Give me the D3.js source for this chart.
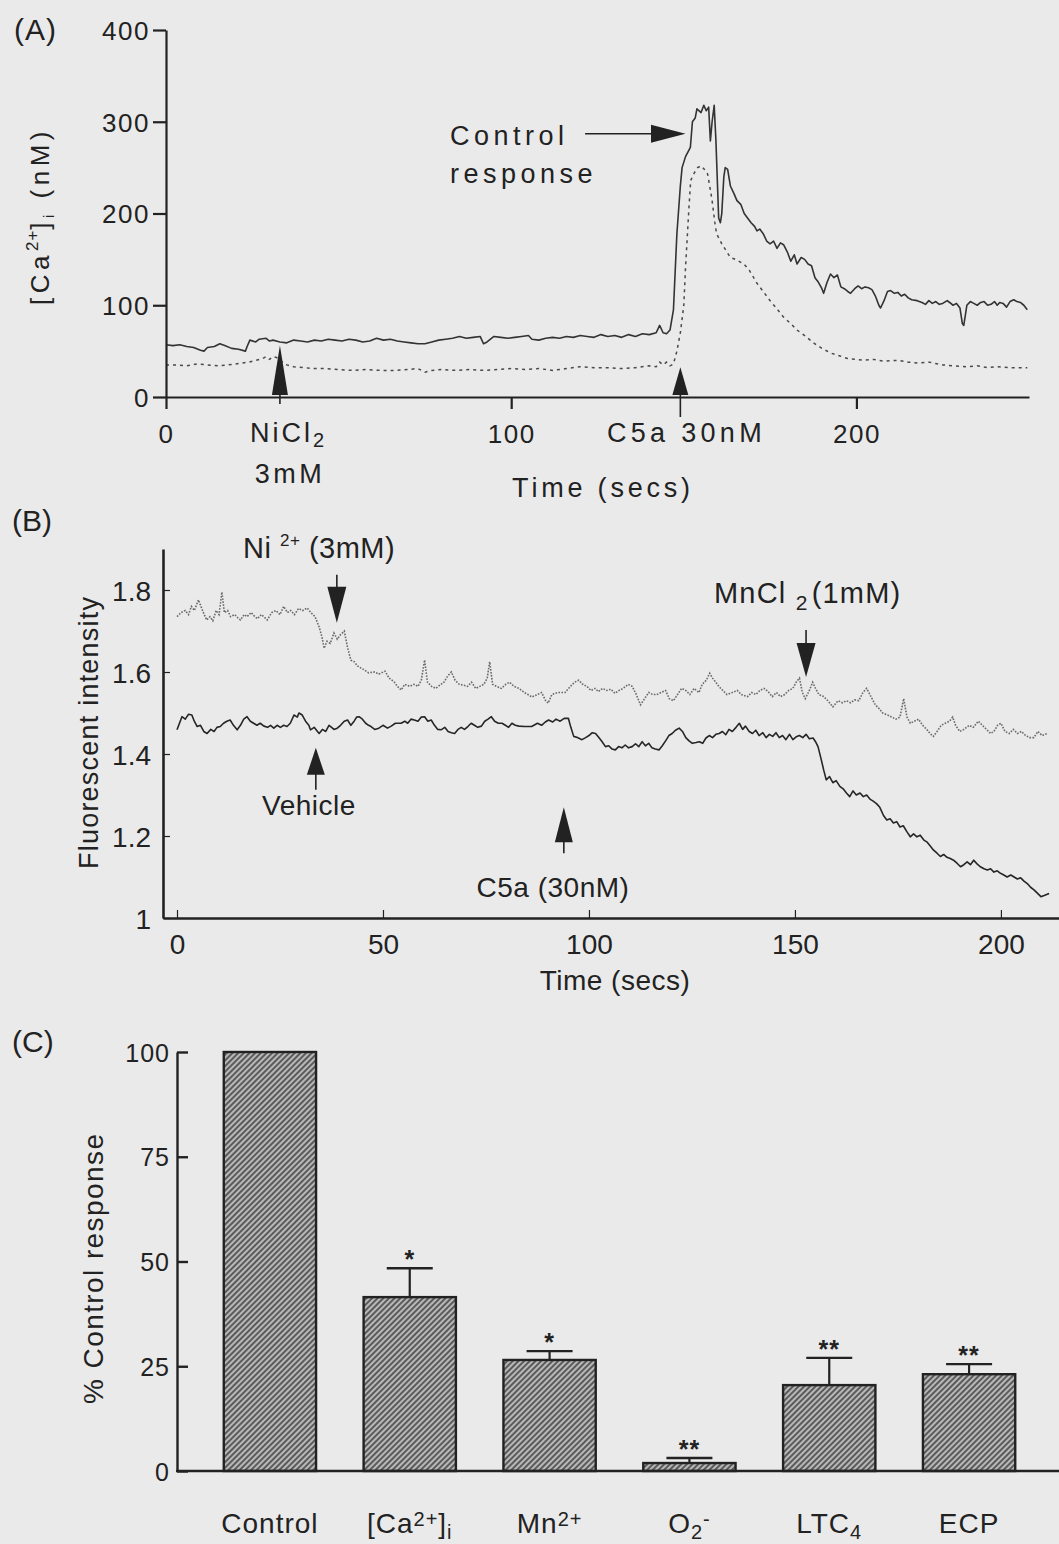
<!DOCTYPE html>
<html><head><meta charset="utf-8">
<script src="https://cdn.jsdelivr.net/npm/d3@7"></script>
<style>
body{margin:0;background:#eaeaea}
svg{display:block}
text{font-family:"Liberation Sans",Arial,Helvetica,sans-serif;fill:#222}
</style>
</head><body>
<svg id="chart" width="1059" height="1544"></svg>
<script>
// ---------------- Panel A data: [time (s), [Ca2+]i (nM)] ----------------
const aSolid = [[0,57],[2,56],[4,57],[6,55],[8,54],[10,51],[11,50],[12,54],[14,55],[15.6,58],[17,56],[19,53],[21,52],[23,50],[23.5,55],[24.3,62],[26,60],[27,63],[29,64],[30,61],[31,62],[33,60],[35,59],[37,62],[39,61],[41,60],[43,62],[45,61],[47,63],[49,62],[51,61],[53,63],[55,62],[57,60],[59,61],[61,64],[63,62],[65,63],[67,61],[69,60],[71,59],[73,58],[75,58],[77,60],[79,62],[81,63],[83,64],[85,66],[87,64],[89,65],[91,66],[92,58],[93,60],[95,66],[97,65],[99,64],[101,65],[103,66],[105,67],[106,63],[108,62],[110,64],[112,65],[114,64],[116,66],[118,65],[120,67],[122,66],[124,65],[126,68],[128,66],[130,67],[132,65],[134,68],[136,66],[138,69],[140,68],[142,70],[143,78],[144,70],[145,69],[146,73],[147,95],[148,178],[149,230],[149.5,250],[150.5,262],[151.9,272],[152.5,300],[153.3,304],[153.8,314],[155,310],[155.8,318],[156.5,312],[157.2,316],[157.7,279],[158.2,300],[158.8,318],[159.3,280],[160.1,195],[160.6,190],[161,200],[161.6,240],[162,250],[162.7,248],[163.5,230],[164.5,222],[165.4,214],[166.5,210],[167.5,200],[168.3,196],[169.5,190],[170.5,186],[171.2,181],[172,183],[173,178],[174,170],[175,167],[176,170],[177,162],[178,168],[178.9,166],[180,158],[181,148],[182,155],[182.8,145],[184,152],[185,150],[186,145],[187,143],[188,130],[189,125],[190,118],[190.5,113],[191.5,125],[192.5,134],[193.5,130],[194.5,133],[195.5,120],[196.5,118],[197.5,115],[198.3,113],[199.5,118],[200.5,121],[201.5,118],[202.5,120],[203.5,119],[204.5,117],[205.5,110],[206.5,100],[207,97],[208,105],[209,115],[209.9,116],[211,113],[212,114],[213,110],[214,112],[215,108],[216,106],[217.6,105],[219,103],[220,101],[221,105],[222,102],[223,104],[224,101],[225,102],[226.3,105],[227,103],[228,100],[229,102],[230,97],[230.7,80],[231.1,78],[231.6,90],[232,100],[233,104],[234,102],[235,100],[236,103],[237,104],[238,100],[239,101],[240,104],[240.8,100],[241.5,103],[242.5,102],[243.5,98],[244.5,104],[245.6,106],[246.5,104],[247.5,103],[248.5,100],[249.5,95]];
const aDotted = [[0,35],[3,35],[6,34],[9,36],[12,35],[15,34],[18,35],[20,36],[22,37],[24,38],[26,40],[28,42],[29,44],[30,41],[31,44],[32,43],[33,41],[34,37],[35,35],[37,33],[40,32],[43,31],[46,31],[50,30],[54,29],[58,30],[62,29],[66,29],[70,30],[73,31],[75,27],[77,29],[80,30],[84,29],[88,30],[92,29],[96,30],[100,31],[104,30],[108,31],[112,29],[116,31],[120,33],[124,32],[128,32],[132,31],[136,32],[140,34],[142,33],[143,38],[144,35],[145,38],[146,34],[147,36],[148,50],[149,70],[150,100],[150.5,141],[151.5,207],[152,236],[153,244],[154,250],[155,252],[156,248],[156.9,243],[157.5,230],[158.2,214],[159,190],[159.5,178],[161,167],[163.5,152],[165,150],[167.4,145],[169,138],[171.2,124],[173,115],[175,105],[177,96],[178.9,87],[181,80],[182.8,73],[185,67],[187.6,59],[190,53],[192.5,48],[195,45],[197.4,42],[200,41],[202,40],[205,41],[208,39],[212,40],[215,38],[218,37],[221,38],[225,35],[228,34],[232,33],[235,34],[238,32],[241,33],[244,32],[247,32],[249.5,32]];
const aXTicks = [0, 100, 200];
const aYTicks = [0, 100, 200, 300, 400];

// ---------------- Panel B data: [time (s), fluorescent intensity] ----------------
const bDotted = [[0,1.735],[1,1.745],[2,1.75],[2.8,1.74],[3.5,1.76],[4.2,1.75],[5.2,1.776],[6,1.755],[6.6,1.74],[7.2,1.727],[8,1.735],[8.7,1.725],[9.5,1.75],[10.2,1.74],[10.9,1.795],[11.5,1.745],[12.3,1.75],[13,1.735],[14,1.74],[15,1.73],[15.4,1.727],[16.3,1.74],[17,1.735],[18,1.745],[18.6,1.738],[19.5,1.73],[20.5,1.74],[21.9,1.727],[23,1.745],[24,1.75],[25,1.74],[25.9,1.76],[26.8,1.745],[27.6,1.75],[28.5,1.74],[29.5,1.755],[30.5,1.75],[31.6,1.756],[32.5,1.745],[33.5,1.735],[34.5,1.71],[35.2,1.685],[35.7,1.658],[36.4,1.675],[37.2,1.67],[38.1,1.695],[38.9,1.68],[39.6,1.69],[40.6,1.70],[41.4,1.66],[42.2,1.629],[43,1.625],[43.8,1.615],[44.6,1.61],[45.5,1.605],[46.5,1.598],[47.9,1.60],[49,1.595],[50.5,1.602],[51.5,1.585],[52.7,1.576],[53.5,1.565],[54.4,1.556],[55.3,1.57],[56.5,1.565],[57.5,1.57],[58.5,1.565],[59.3,1.58],[60.1,1.629],[60.8,1.575],[61.8,1.565],[62.8,1.56],[63.8,1.568],[64.8,1.575],[65.7,1.59],[66.6,1.60],[67.5,1.58],[68.5,1.57],[69.5,1.568],[70.5,1.565],[71.5,1.575],[72.5,1.56],[73.5,1.565],[74.5,1.57],[75.3,1.585],[75.9,1.625],[76.6,1.57],[77.6,1.565],[78.7,1.56],[79.8,1.57],[80.7,1.575],[81.8,1.565],[83,1.56],[84.3,1.55],[85.2,1.545],[86.1,1.539],[87.5,1.545],[88.5,1.55],[89.5,1.53],[90.1,1.524],[91,1.545],[92.5,1.55],[94.2,1.55],[95.5,1.565],[96.5,1.575],[97.5,1.58],[98.5,1.57],[99.5,1.565],[100.5,1.555],[101.5,1.56],[102.3,1.552],[103.3,1.56],[104.3,1.555],[105.3,1.558],[106.3,1.548],[107.3,1.555],[108.3,1.56],[109.5,1.57],[110.5,1.565],[111.5,1.545],[112.5,1.52],[113.5,1.535],[114.5,1.55],[115.5,1.545],[116.5,1.545],[117.5,1.55],[118.6,1.555],[119.5,1.535],[120.5,1.53],[121.5,1.545],[122.5,1.56],[123.5,1.555],[124.5,1.545],[125.5,1.56],[126.7,1.55],[127.5,1.57],[128.5,1.58],[129.3,1.597],[130,1.585],[130.8,1.575],[131.5,1.565],[132.5,1.555],[133.5,1.545],[134.8,1.55],[136,1.555],[137,1.545],[138.5,1.54],[139.5,1.55],[140.5,1.545],[141.5,1.555],[142.5,1.56],[143.5,1.552],[144.5,1.54],[145.5,1.55],[146.5,1.54],[147.5,1.545],[148.5,1.555],[149.5,1.56],[150.3,1.575],[151.1,1.585],[151.8,1.55],[152.5,1.535],[153.5,1.555],[154.3,1.575],[155,1.56],[155.8,1.545],[157,1.54],[158,1.53],[159.2,1.515],[160.5,1.53],[161.5,1.525],[162.5,1.53],[163.5,1.525],[164.5,1.532],[165.5,1.53],[166.5,1.55],[167.4,1.56],[168.2,1.545],[169.5,1.52],[170.5,1.51],[171.3,1.50],[172.5,1.495],[173.5,1.49],[174.5,1.485],[175.5,1.49],[176.4,1.535],[177.2,1.49],[178,1.475],[179,1.48],[180,1.485],[181,1.47],[182,1.46],[182.8,1.45],[183.6,1.443],[184.5,1.455],[185.5,1.47],[186.5,1.475],[187.5,1.48],[188.3,1.49],[189,1.47],[190,1.455],[191,1.46],[192.3,1.47],[193.3,1.465],[194.5,1.48],[195.5,1.47],[196.5,1.46],[197.5,1.45],[198.3,1.455],[199.2,1.47],[200,1.475],[201,1.455],[202,1.45],[203,1.46],[204,1.45],[205,1.455],[206,1.445],[207,1.44],[208,1.44],[209,1.455],[210,1.445],[211.3,1.45]];
const bSolid = [[0,1.459],[0.6,1.475],[1.2,1.491],[2,1.485],[2.8,1.497],[3.6,1.495],[4.2,1.48],[4.9,1.467],[5.7,1.47],[6.5,1.455],[7.3,1.45],[8.2,1.46],[9,1.455],[9.7,1.465],[10.5,1.467],[11.3,1.475],[12.1,1.48],[12.9,1.483],[13.7,1.47],[14.6,1.459],[15.4,1.47],[16.2,1.485],[17,1.491],[17.8,1.48],[18.6,1.475],[19.4,1.47],[20.2,1.475],[21.1,1.468],[22,1.465],[22.7,1.47],[23.5,1.463],[24.3,1.47],[25.1,1.465],[25.9,1.47],[26.7,1.467],[27.5,1.475],[28.4,1.495],[29.2,1.49],[29.6,1.5],[30.4,1.495],[31.2,1.48],[32,1.47],[32.4,1.459],[33.3,1.465],[34.1,1.455],[34.5,1.45],[35.3,1.46],[36.1,1.455],[36.9,1.47],[37.3,1.467],[38.1,1.46],[38.9,1.463],[39.7,1.47],[40.6,1.48],[41.4,1.483],[42.2,1.47],[43,1.48],[43.6,1.49],[44.2,1.491],[45,1.485],[45.8,1.475],[46.5,1.47],[47.1,1.467],[48,1.46],[49,1.463],[50,1.47],[51.1,1.463],[52,1.468],[53,1.475],[54.4,1.475],[55.3,1.48],[56,1.475],[56.8,1.485],[57.6,1.483],[58.5,1.48],[59.3,1.49],[60.1,1.491],[60.9,1.48],[61.7,1.483],[62.5,1.47],[63.3,1.46],[64.1,1.459],[65,1.465],[65.8,1.455],[66.6,1.452],[67.4,1.45],[68.2,1.46],[69,1.465],[69.8,1.46],[70.6,1.467],[71.4,1.475],[72.2,1.47],[73,1.465],[73.9,1.468],[74.7,1.48],[75.5,1.485],[76.3,1.491],[77.1,1.48],[78,1.475],[78.9,1.475],[79.7,1.47],[80.5,1.465],[81.3,1.475],[82.1,1.47],[83,1.468],[84.4,1.467],[86.1,1.467],[87.5,1.475],[88.5,1.47],[89.4,1.478],[90.2,1.483],[91.2,1.478],[92,1.485],[93,1.48],[94,1.487],[95,1.487],[95.6,1.465],[96.3,1.443],[97.2,1.44],[98.3,1.435],[99.2,1.44],[100,1.445],[100.8,1.452],[101.6,1.45],[102.4,1.44],[103.2,1.43],[104,1.418],[104.8,1.42],[105.6,1.412],[106.4,1.41],[107.2,1.418],[108,1.415],[108.8,1.422],[109.6,1.415],[110.5,1.418],[111.3,1.425],[112.1,1.418],[112.9,1.43],[113.7,1.42],[114.5,1.426],[115.3,1.415],[116.1,1.412],[117,1.41],[117.8,1.42],[118.6,1.432],[119.4,1.445],[120.2,1.45],[121,1.458],[121.9,1.463],[122.7,1.455],[123.5,1.44],[124.3,1.432],[125.1,1.426],[126,1.428],[126.8,1.43],[127.6,1.426],[128.4,1.439],[129.2,1.445],[130,1.44],[130.8,1.448],[131.6,1.45],[132.4,1.455],[133.2,1.447],[134,1.46],[134.8,1.455],[135.7,1.465],[136.5,1.475],[137.3,1.46],[138,1.468],[138.9,1.455],[139.7,1.45],[140.5,1.458],[141.3,1.445],[142.2,1.452],[143,1.44],[143.8,1.448],[144.6,1.443],[145.4,1.452],[146.2,1.44],[147,1.445],[147.8,1.435],[148.7,1.448],[149.5,1.435],[150.3,1.442],[151.1,1.445],[151.9,1.44],[152.7,1.448],[153.5,1.437],[154.4,1.439],[155,1.43],[155.6,1.418],[156.3,1.39],[157,1.36],[157.6,1.337],[158.4,1.345],[159.2,1.33],[160,1.335],[160.9,1.321],[161.7,1.315],[162.5,1.305],[163.3,1.296],[164.1,1.31],[164.9,1.3],[165.8,1.305],[166.6,1.296],[167.4,1.3],[168.2,1.29],[169,1.285],[169.8,1.279],[170.6,1.27],[171.5,1.25],[172.3,1.239],[173.1,1.242],[173.9,1.232],[174.7,1.235],[175.5,1.222],[176.3,1.225],[177.2,1.21],[178,1.198],[178.8,1.205],[179.6,1.198],[180.4,1.202],[181.3,1.19],[182.1,1.185],[182.9,1.175],[183.6,1.166],[184.5,1.158],[185.3,1.15],[186.1,1.155],[186.9,1.148],[187.7,1.145],[188.5,1.141],[189.4,1.133],[190.2,1.125],[191,1.13],[191.8,1.137],[192.6,1.13],[193.4,1.141],[194.2,1.132],[195,1.125],[195.9,1.12],[196.7,1.117],[197.5,1.12],[198.3,1.112],[199.1,1.115],[199.9,1.109],[200.7,1.105],[201.5,1.1],[202.4,1.105],[203.2,1.1],[204,1.095],[204.8,1.098],[205.6,1.09],[206.4,1.084],[207.2,1.075],[208.1,1.068],[208.9,1.06],[209.7,1.052],[210.5,1.055],[211.7,1.06]];
const bXTicks = [0, 50, 100, 150, 200];
const bYTicks = [1, 1.2, 1.4, 1.6, 1.8];

// ---------------- Panel C data ----------------
const cCategories = ["Control", "[Ca2+]i", "Mn2+", "O2-", "LTC4", "ECP"];
const cValues = [100, 41.5, 26.5, 1.9, 20.5, 23.1];
const cErrors = [0, 6.9, 2.1, 1.2, 6.5, 2.4];
const cStars = ["", "*", "*", "**", "**", "**"];
const cYTicks = [0, 25, 50, 75, 100];

// ---------------- drawing ----------------
const svg = d3.select("#chart");
const INK = "#222";

const defs = svg.append("defs");
const pat = defs.append("pattern").attr("id", "hatch").attr("patternUnits", "userSpaceOnUse")
  .attr("width", 4).attr("height", 4).attr("patternTransform", "rotate(45)");
pat.append("rect").attr("width", 4).attr("height", 4).attr("fill", "#b8b8b8");
pat.append("line").attr("x1", 1).attr("x2", 1).attr("y1", 0).attr("y2", 4)
  .attr("stroke", "#505050").attr("stroke-width", 1.8);

function styleAxis(g, sw) {
  g.select(".domain").attr("stroke", INK).attr("stroke-width", sw);
  g.selectAll(".tick line").attr("stroke", INK).attr("stroke-width", sw);
  g.selectAll(".tick text").attr("fill", INK).attr("font-family", null);
}

// ===== Panel A =====
const ax = d3.scaleLinear().domain([0, 250]).range([166, 1029]);
const ay = d3.scaleLinear().domain([0, 400]).range([397, 30]);
const gA = svg.append("g");

gA.append("path").datum(aDotted).attr("fill", "none").attr("stroke", "#4a4a4a")
  .attr("stroke-width", 1.5).attr("stroke-dasharray", "3,4")
  .attr("d", d3.line().x(d => ax(d[0])).y(d => ay(d[1])));
gA.append("path").datum(aSolid).attr("fill", "none").attr("stroke", "#333")
  .attr("stroke-width", 1.6).attr("stroke-linejoin", "round")
  .attr("d", d3.line().x(d => ax(d[0])).y(d => ay(d[1])));

const gAy = gA.append("g").attr("transform", `translate(${ax(0)},0)`)
  .call(d3.axisLeft(ay).tickValues(aYTicks).tickSize(13).tickSizeOuter(0).tickPadding(3));
styleAxis(gAy, 2.2);
gAy.selectAll(".tick text").attr("font-size", 26).attr("letter-spacing", 1.5).attr("dy", "0.36em");

const gAx = gA.append("g").attr("transform", `translate(0,${ay(0)})`)
  .call(d3.axisBottom(ax).tickValues(aXTicks).tickSize(12).tickSizeOuter(0));
styleAxis(gAx, 2.2);
gAx.selectAll(".tick text").attr("font-size", 26).attr("letter-spacing", 1.5).attr("y", 46).attr("dy", null);

// arrows
function upArrow(g, x, tipY, baseY, halfW, stemEnd) {
  g.append("path").attr("d", `M${x},${tipY}L${x - halfW},${baseY}L${x + halfW},${baseY}Z`).attr("fill", INK);
  g.append("line").attr("x1", x).attr("x2", x).attr("y1", baseY - 2).attr("y2", stemEnd)
    .attr("stroke", INK).attr("stroke-width", 1.6);
}
function downArrow(g, x, tipY, baseY, halfW, stemStart) {
  g.append("path").attr("d", `M${x},${tipY}L${x - halfW},${baseY}L${x + halfW},${baseY}Z`).attr("fill", INK);
  g.append("line").attr("x1", x).attr("x2", x).attr("y1", stemStart).attr("y2", baseY + 2)
    .attr("stroke", INK).attr("stroke-width", 1.6);
}
upArrow(gA, ax(33), ay(56), ay(0) - 2, 8, ay(0) + 7);
upArrow(gA, ax(149), ay(32.5), ay(0) - 2, 8, ay(0) + 20);

// control response arrow
const crY = ay(287);
gA.append("line").attr("x1", ax(121.4)).attr("x2", ax(141)).attr("y1", crY).attr("y2", crY)
  .attr("stroke", INK).attr("stroke-width", 1.6);
gA.append("path").attr("d", `M${ax(150.5)},${crY}L${ax(140.5)},${crY - 9}L${ax(140.5)},${crY + 9}Z`).attr("fill", INK);

const aTxt = (x, y, s, anchor, ls) => gA.append("text").attr("x", x).attr("y", y).attr("font-size", 27)
  .attr("letter-spacing", ls).attr("text-anchor", anchor || "start").text(s);
aTxt(450, 145, "Control", "start", 4.5);
aTxt(450, 183, "response", "start", 4.5);
aTxt(607, 442, "C5a 30nM", "start", 4.3);
aTxt(603, 497, "Time (secs)", "middle", 3.8);
aTxt(290, 483, "3mM", "middle", 3.5);
const ni = gA.append("text").attr("x", 250).attr("y", 442).attr("font-size", 27).attr("letter-spacing", 3);
ni.append("tspan").text("NiCl");
ni.append("tspan").attr("font-size", 20).attr("dy", 5).attr("letter-spacing", 0).text("2");
gA.append("text").attr("x", 14).attr("y", 40).attr("font-size", 30).attr("letter-spacing", 1).text("(A)");

const aYl = gA.append("text").attr("transform", "translate(49,216) rotate(-90)")
  .attr("text-anchor", "middle").attr("font-size", 26).attr("letter-spacing", 4.5);
aYl.append("tspan").text("[Ca");
aYl.append("tspan").attr("font-size", 17).attr("dy", -11).attr("letter-spacing", 1).text("2+");
aYl.append("tspan").attr("dy", 11).text("]");
aYl.append("tspan").attr("font-size", 15).attr("dy", 5).text("i");
aYl.append("tspan").attr("dy", -5).text(" (nM)");

// ===== Panel B =====
const bx = d3.scaleLinear().domain([-3.4, 214.1]).range([163, 1059]);
const by = d3.scaleLinear().domain([1, 1.9]).range([918, 549]);
const gB = svg.append("g");

gB.append("path").datum(bDotted).attr("fill", "none").attr("stroke", "#6a6a6a")
  .attr("stroke-width", 1.6).attr("stroke-dasharray", "1.6,1.4")
  .attr("d", d3.line().x(d => bx(d[0])).y(d => by(d[1])));
gB.append("path").datum(bSolid).attr("fill", "none").attr("stroke", "#262626")
  .attr("stroke-width", 1.6).attr("stroke-linejoin", "round")
  .attr("d", d3.line().x(d => bx(d[0])).y(d => by(d[1])));

const gBy = gB.append("g").attr("transform", `translate(${bx(-3.4)},0)`)
  .call(d3.axisLeft(by).tickValues(bYTicks).tickSize(-7).tickSizeOuter(0).tickPadding(12)
    .tickFormat(d => d === 1 ? "1" : d3.format(".1f")(d)));
styleAxis(gBy, 2.6);
gBy.selectAll(".tick line").attr("stroke-width", 1.2);
gBy.selectAll(".tick text").attr("font-size", 28).attr("dy", "0.36em");

const gBx = gB.append("g").attr("transform", `translate(0,${by(1)})`)
  .call(d3.axisBottom(bx).tickValues(bXTicks).tickSize(-8).tickSizeOuter(0));
styleAxis(gBx, 2.6);
gBx.selectAll(".tick line").attr("stroke-width", 1.2);
gBx.selectAll(".tick text").attr("font-size", 28).attr("y", 36).attr("dy", null);

downArrow(gB, bx(38.8), by(1.72), by(1.72) - 36, 9.5, by(1.72) - 48);
downArrow(gB, bx(152.7), by(1.588), by(1.588) - 34, 9.5, by(1.588) - 47);
upArrow(gB, bx(33.7), by(1.415), by(1.415) + 27, 9, by(1.415) + 42);
upArrow(gB, bx(93.9), by(1.27), by(1.27) + 35, 9, by(1.27) + 46);

const bTxt = (x, y, s, anchor) => gB.append("text").attr("x", x).attr("y", y).attr("font-size", 28)
  .attr("letter-spacing", 0.5).attr("text-anchor", anchor || "start").text(s);
bTxt(309, 815, "Vehicle", "middle");
bTxt(553, 897, "C5a (30nM)", "middle");
bTxt(615, 990, "Time (secs)", "middle");
gB.append("text").attr("x", 12).attr("y", 531).attr("font-size", 30).text("(B)");
const niB = gB.append("text").attr("x", 243).attr("y", 558).attr("font-size", 29).attr("letter-spacing", 0.5);
niB.append("tspan").text("Ni ");
niB.append("tspan").attr("font-size", 17).attr("dy", -12).text("2+");
niB.append("tspan").attr("dy", 12).text(" (3mM)");
const mnB = gB.append("text").attr("x", 714).attr("y", 603).attr("font-size", 29).attr("letter-spacing", 1.2);
mnB.append("tspan").text("MnCl ");
mnB.append("tspan").attr("font-size", 21).attr("dy", 7).text("2");
mnB.append("tspan").attr("dy", -7).attr("dx", 3).text("(1mM)");
gB.append("text").attr("transform", "translate(98,733) rotate(-90)").attr("text-anchor", "middle")
  .attr("font-size", 27).attr("textLength", 272).attr("lengthAdjust", "spacing").text("Fluorescent intensity");

// ===== Panel C =====
const cx = d3.scaleBand().domain(cCategories).range([200, 1039]).paddingInner(0.34).paddingOuter(0.17);
const cy = d3.scaleLinear().domain([0, 100]).range([1471, 1052]);
const gC = svg.append("g");

gC.selectAll("rect.bar").data(cCategories).join("rect").attr("class", "bar")
  .attr("x", d => cx(d)).attr("width", cx.bandwidth())
  .attr("y", (d, i) => cy(cValues[i])).attr("height", (d, i) => cy(0) - cy(cValues[i]))
  .attr("fill", "url(#hatch)").attr("stroke", INK).attr("stroke-width", 2.4);

const capW = 46;
cCategories.forEach((c, i) => {
  if (!cErrors[i]) return;
  const xc = cx(c) + cx.bandwidth() / 2;
  const top = cy(cValues[i] + cErrors[i]);
  gC.append("line").attr("x1", xc).attr("x2", xc).attr("y1", cy(cValues[i])).attr("y2", top)
    .attr("stroke", INK).attr("stroke-width", 2.2);
  gC.append("line").attr("x1", xc - capW / 2).attr("x2", xc + capW / 2).attr("y1", top).attr("y2", top)
    .attr("stroke", INK).attr("stroke-width", 2.4);
  gC.append("text").attr("x", xc).attr("y", top).attr("text-anchor", "middle")
    .attr("font-size", 25).attr("font-weight", "bold").attr("letter-spacing", 1).text(cStars[i]);
});

const gCy = gC.append("g").attr("transform", "translate(177,0)")
  .call(d3.axisLeft(cy).tickValues(cYTicks).tickSize(-11).tickSizeOuter(0).tickPadding(7));
styleAxis(gCy, 2.4);
gCy.selectAll(".tick text").attr("font-size", 25).attr("letter-spacing", 1).attr("dy", "0.36em");
gC.append("line").attr("x1", 176).attr("x2", 1059).attr("y1", cy(0)).attr("y2", cy(0))
  .attr("stroke", INK).attr("stroke-width", 2.6);

// category labels with sub/superscripts
const labelParts = {
  "Control": [["Control", 0]],
  "[Ca2+]i": [["[Ca", 0], ["2+", 1], ["]", 0], ["i", 2]],
  "Mn2+": [["Mn", 0], ["2+", 1]],
  "O2-": [["O", 0], ["2", 2], ["-", 1]],
  "LTC4": [["LTC", 0], ["4", 2]],
  "ECP": [["ECP", 0]]
};
cCategories.forEach(c => {
  const t = gC.append("text").attr("x", cx(c) + cx.bandwidth() / 2).attr("y", 1533)
    .attr("text-anchor", "middle").attr("font-size", 28).attr("letter-spacing", 1);
  let shift = 0;
  labelParts[c].forEach(([s, kind]) => {
    const target = kind === 1 ? -7 : kind === 2 ? 6 : 0;
    const sp = t.append("tspan").attr("dy", target - shift).text(s);
    if (kind) sp.attr("font-size", 20);
    shift = target;
  });
});
gC.append("text").attr("x", 12).attr("y", 1052).attr("font-size", 30).text("(C)");
gC.append("text").attr("transform", "translate(103,1269) rotate(-90)").attr("text-anchor", "middle")
  .attr("font-size", 28).attr("textLength", 270).attr("lengthAdjust", "spacing").text("% Control response");
</script>
</body></html>
